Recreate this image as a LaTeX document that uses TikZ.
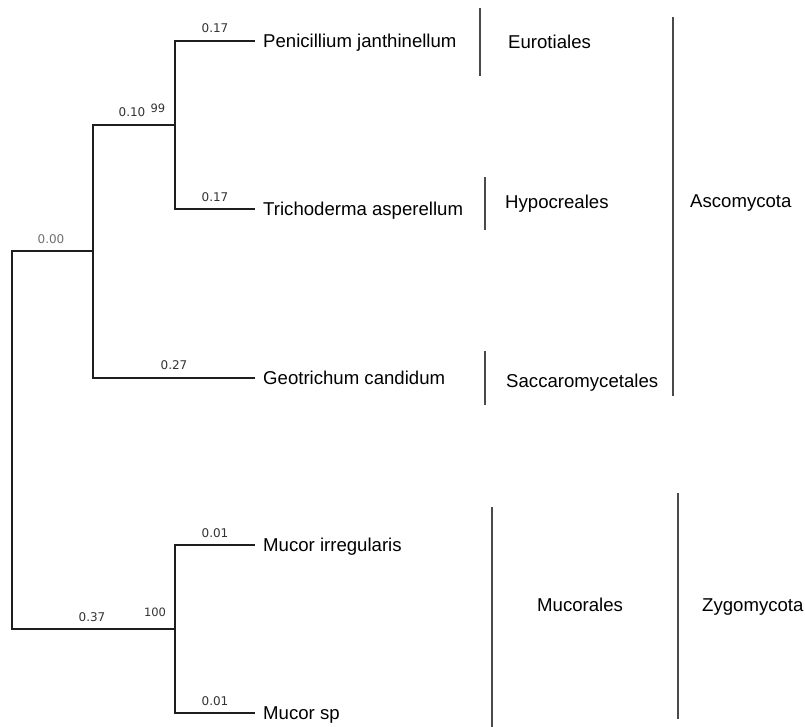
\documentclass[tikz,border=0pt]{standalone}
\usepackage{fontspec}
\setmainfont{Liberation Sans}
\newfontfamily\numfont{DejaVu Sans}
\definecolor{treecol}{HTML}{1E1E1E}
\definecolor{barcol}{HTML}{4A4A4A}
\definecolor{numcol}{HTML}{333333}
\definecolor{zerocol}{HTML}{707070}
\begin{document}
\begin{tikzpicture}[x=1pt,y=-1pt,
  tree/.style={draw=treecol, line width=1.2pt},
  bar/.style={draw=barcol, line width=1.4pt},
  taxon/.style={anchor=west, inner xsep=8pt, inner ysep=0pt,
    font=\fontsize{18.6}{20}\selectfont, text height=13.3pt, text depth=0pt, text=black},
  clade/.style={anchor=west, inner sep=0pt,
    font=\fontsize{18.6}{20}\selectfont, text height=13.3pt, text depth=0pt, text=black},
  blen/.style={font=\numfont\fontsize{12}{14}\selectfont, text=numcol, inner sep=0pt},
  boot/.style={font=\numfont\fontsize{11.5}{14}\selectfont, text=numcol, inner sep=0pt}
]
\useasboundingbox (0,0) rectangle (805,727);

% internal coordinates
\coordinate (r1) at (12,251);
\coordinate (r2) at (12,629);
\coordinate (a)  at (93,251);
\coordinate (a1) at (93,125);
\coordinate (a2) at (93,378);
\coordinate (b)  at (175,125);
\coordinate (b1) at (175,41);
\coordinate (b2) at (175,209);
\coordinate (m)  at (175,629);
\coordinate (m1) at (175,545);
\coordinate (m2) at (175,713);

% taxa
\node[taxon] (pj) at (255,41)  {Penicillium janthinellum};
\node[taxon] (ta) at (255,209) {Trichoderma asperellum};
\node[taxon] (gc) at (255,378) {Geotrichum candidum};
\node[taxon] (mi) at (255,545) {Mucor irregularis};
\node[taxon] (ms) at (255,713) {Mucor sp};

% tree
\draw[tree] (pj.west) -- (b1) -- (b2) -- (ta.west);
\draw[tree] (b) -- (a1) -- (a2) -- (gc.west);
\draw[tree] (a) -- (r1) -- (r2) -- (m);
\draw[tree] (mi.west) -- (m1) -- (m2) -- (ms.west);

% branch lengths and bootstrap values
\node[blen, text=zerocol] (l000) at (51,239) {0.00};
\node[blen] (l010) at (132,112) {0.10};
\node[boot] (bs99) at (158,108.5) {99};
\node[blen] (l017a) at (215,28.5) {0.17};
\node[blen] (l017b) at (215,197.5) {0.17};
\node[blen] (l027) at (174,365.5) {0.27};
\node[blen] (l037) at (92,617) {0.37};
\node[boot] (bs100) at (155,612) {100};
\node[blen] (l001a) at (215,533) {0.01};
\node[blen] (l001b) at (215,701.5) {0.01};

% clade bars
\draw[bar] (480,8) -- (480,76);
\draw[bar] (485,177) -- (485,230);
\draw[bar] (485,351) -- (485,405);
\draw[bar] (673,17) -- (673,396);
\draw[bar] (492,507) -- (492,727);
\draw[bar] (678,493) -- (678,719);

% clade labels
\node[clade] (eur) at (508,42)  {Eurotiales};
\node[clade] (hyp) at (505,202) {Hypocreales};
\node[clade] (sac) at (506,381) {Saccaromycetales};
\node[clade] (asc) at (690,201) {Ascomycota};
\node[clade] (muc) at (537,605) {Mucorales};
\node[clade] (zyg) at (702,605) {Zygomycota};
\end{tikzpicture}
\end{document}
